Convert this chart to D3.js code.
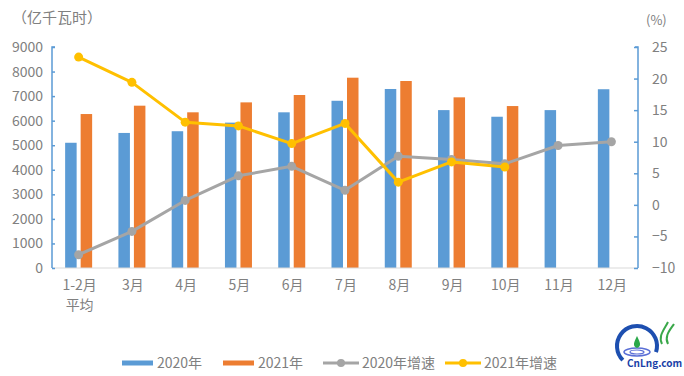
<!DOCTYPE html>
<html>
<head>
<meta charset="utf-8">
<script src="https://cdn.jsdelivr.net/npm/d3@7"></script>
<style>
  body { margin: 0; background: #fff; }
  text { font-family: "Noto Sans CJK SC", "Noto Sans", sans-serif; }
</style>
</head>
<body>
<div id="chart"></div>
<script>
// podaci
const mjeseci = ["1-2月\n平均", "3月", "4月", "5月", "6月", "7月", "8月", "9月", "10月", "11月", "12月"];
const god2020 = [5100, 5500, 5570, 5920, 6340, 6810, 7290, 6430, 6160, 6430, 7280];
const god2021 = [6270, 6610, 6340, 6745, 7045, 7750, 7615, 6950, 6595];
const rast2020 = [-7.9, -4.2, 0.7, 4.6, 6.1, 2.3, 7.7, 7.2, 6.5, 9.4, 10.0];
const rast2021 = [23.4, 19.4, 13.1, 12.5, 9.7, 12.9, 3.6, 6.8, 6.0];
const lijeviTicks = [0, 1000, 2000, 3000, 4000, 5000, 6000, 7000, 8000, 9000];
const desniTicks = [-10, -5, 0, 5, 10, 15, 20, 25];
const legenda = ["2020年", "2021年", "2020年增速", "2021年增速"];

const boje = { plava: "#5B9BD5", narancasta: "#ED7D31", siva: "#A5A5A5", zuta: "#FFC000" };
const sivaSlova = "#808080";

const dim = { sirina: 684, visina: 376, lijevo: 52, desno: 638, gore: 47, dolje: 268 };

const svg = d3.select("#chart").append("svg")
  .attr("width", dim.sirina)
  .attr("height", dim.visina);

const x = d3.scaleBand().domain(mjeseci).range([dim.lijevo, dim.desno]);
const yL = d3.scaleLinear().domain([0, 9000]).range([dim.dolje, dim.gore]);
const yR = d3.scaleLinear().domain([-10, 25]).range([dim.dolje, dim.gore]);

const barW = 11.5, razmak = 4;
const sredina = d => x(d) + x.bandwidth() / 2;

// stupci
svg.append("g").selectAll("rect").data(god2020).join("rect")
  .attr("x", (d, i) => sredina(mjeseci[i]) - razmak / 2 - barW)
  .attr("y", d => yL(d))
  .attr("width", barW)
  .attr("height", d => yL(0) - yL(d))
  .attr("fill", boje.plava);

svg.append("g").selectAll("rect").data(god2021).join("rect")
  .attr("x", (d, i) => sredina(mjeseci[i]) + razmak / 2)
  .attr("y", d => yL(d))
  .attr("width", barW)
  .attr("height", d => yL(0) - yL(d))
  .attr("fill", boje.narancasta);

// x os
svg.append("line")
  .attr("x1", dim.lijevo).attr("x2", dim.desno)
  .attr("y1", yL(0)).attr("y2", yL(0))
  .attr("stroke", "#d9d9d9").attr("stroke-width", 1);

const xOznake = svg.append("g").selectAll("text").data(mjeseci).join("text")
  .attr("x", d => sredina(d) + 1)
  .attr("y", 290)
  .attr("text-anchor", "middle")
  .attr("font-size", 14)
  .attr("fill", sivaSlova);
xOznake.each(function(d) {
  d3.select(this).selectAll("tspan").data(d.split("\n")).join("tspan")
    .attr("x", sredina(d) + 1)
    .attr("dy", (t, i) => i === 0 ? 0 : 20)
    .text(t => t);
});

// lijeva os
const lijevaOs = svg.append("g")
  .attr("transform", `translate(${dim.lijevo},0)`)
  .call(d3.axisLeft(yL).tickValues(lijeviTicks).tickFormat(d3.format("d")).tickSize(-4).tickPadding(9));
lijevaOs.select(".domain").attr("stroke", boje.plava).attr("stroke-width", 1.5).attr("d", `M3,${dim.gore}H0V${dim.dolje}`);
lijevaOs.selectAll(".tick line").attr("stroke", boje.plava).attr("stroke-width", 1.5).attr("x1", 0).attr("x2", 3);
lijevaOs.selectAll(".tick text").attr("font-size", 14).attr("fill", sivaSlova)
  .attr("font-family", "\"Noto Sans CJK SC\", sans-serif");

// desna os
const desnaOs = svg.append("g")
  .attr("transform", `translate(${dim.desno},0)`)
  .call(d3.axisRight(yR).tickValues(desniTicks).tickSize(4).tickPadding(10));
desnaOs.select(".domain").attr("stroke", boje.plava).attr("stroke-width", 1.5).attr("d", `M-3,${dim.gore}H0V${dim.dolje}`);
desnaOs.selectAll(".tick line").attr("stroke", boje.plava).attr("stroke-width", 1.5).attr("x1", -4).attr("x2", 0);
desnaOs.selectAll(".tick text").attr("font-size", 14).attr("fill", sivaSlova)
  .attr("font-family", "\"Noto Sans CJK SC\", sans-serif");

// jedinice
svg.append("text").attr("x", 12).attr("y", 23).attr("font-size", 15).attr("fill", sivaSlova).text("（亿千瓦时）");
svg.append("text").attr("x", 646).attr("y", 25).attr("font-size", 13).attr("fill", sivaSlova).text("(%)");

// linije
const crtajLiniju = (podaci, boja) => {
  const linija = d3.line().x((d, i) => sredina(mjeseci[i])).y(d => yR(d));
  svg.append("path").datum(podaci)
    .attr("d", linija)
    .attr("fill", "none")
    .attr("stroke", boja)
    .attr("stroke-width", 3)
    .attr("stroke-linejoin", "round");
  svg.append("g").selectAll("circle").data(podaci).join("circle")
    .attr("cx", (d, i) => sredina(mjeseci[i]))
    .attr("cy", d => yR(d))
    .attr("r", 4.5)
    .attr("fill", boja);
};
crtajLiniju(rast2020, boje.siva);
crtajLiniju(rast2021, boje.zuta);

// legenda
const legY = 363;
const stavke = [
  { x: 122, tip: "bar", boja: boje.plava },
  { x: 223, tip: "bar", boja: boje.narancasta },
  { x: 323, tip: "line", boja: boje.siva },
  { x: 445, tip: "line", boja: boje.zuta }
];
const leg = svg.append("g").selectAll("g").data(stavke).join("g")
  .attr("transform", d => `translate(${d.x},${legY})`);
leg.filter(d => d.tip === "bar").append("rect")
  .attr("x", 0).attr("y", -2.5).attr("width", 31).attr("height", 5)
  .attr("fill", d => d.boja);
leg.filter(d => d.tip === "line").append("line")
  .attr("x1", 0).attr("x2", 36).attr("y1", 0).attr("y2", 0)
  .attr("stroke", d => d.boja).attr("stroke-width", 3);
leg.filter(d => d.tip === "line").append("circle")
  .attr("cx", 18).attr("cy", 0).attr("r", 4).attr("fill", d => d.boja);
leg.append("text")
  .attr("x", d => d.tip === "bar" ? 35 : 39)
  .attr("y", 5)
  .attr("font-size", 14)
  .attr("fill", sivaSlova)
  .text((d, i) => legenda[i]);

// logo (vodeni zig)
const logo = svg.append("g").attr("transform", "translate(637,346)");
logo.append("path")
  .attr("d", d3.arc()({ innerRadius: 18, outerRadius: 22, startAngle: -Math.PI * 0.75, endAngle: Math.PI * 0.6 }))
  .attr("fill", "#1d4fb0");
logo.append("ellipse").attr("cx", 0).attr("cy", 6).attr("rx", 13).attr("ry", 4)
  .attr("fill", "none").attr("stroke", "#5a6fd6").attr("stroke-width", 1.5);
logo.append("ellipse").attr("cx", 0).attr("cy", 6).attr("rx", 7).attr("ry", 2)
  .attr("fill", "none").attr("stroke", "#5a6fd6").attr("stroke-width", 1.2);
logo.append("path").attr("d", "M0,-10 C3,-4 5,0 0,2 C-5,0 -3,-4 0,-10Z").attr("fill", "#2aa84a");
logo.append("path").attr("d", "M25,-2 C21,-10 27,-16 31,-24 M31,-2 C27,-10 33,-16 37,-22")
  .attr("fill", "none").attr("stroke", "#3aa84a").attr("stroke-width", 2);
logo.append("text").attr("x", -10).attr("y", 21).attr("font-size", 10)
  .attr("font-weight", "bold").attr("fill", "#1a3fa8").attr("font-family", "DejaVu Sans, sans-serif")
  .text("CnLng.com");
</script>
</body>
</html>
